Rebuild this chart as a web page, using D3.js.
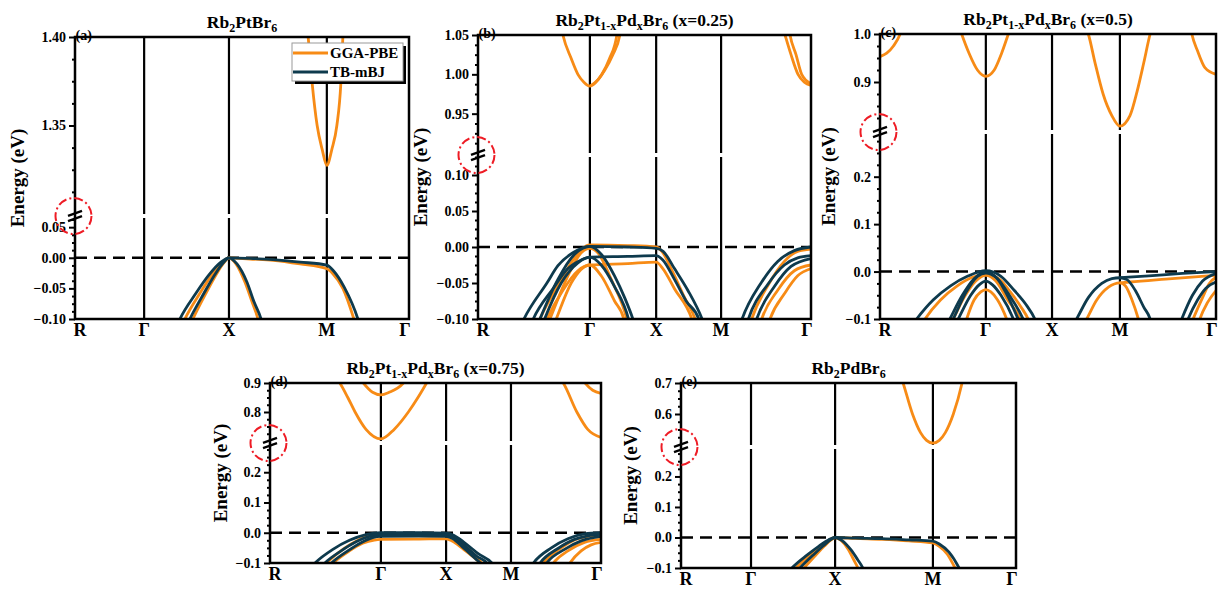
<!DOCTYPE html>
<html>
<head>
<meta charset="utf-8">
<script src="https://cdn.jsdelivr.net/npm/d3@7"></script>
<style>
   body { margin: 0; background: #fff; }
   svg text { font-family: "Liberation Serif", "Times New Roman", serif; font-weight: bold; fill: #000; }
</style>
</head>
<body>
<div id="chart"></div>
<script>
// k-path labels and high-symmetry positions (fraction of the path) for each panel
var kLabels = ["R", "\u0393", "X", "M", "\u0393"];
var kPosA = [0, 0.207, 0.461, 0.754, 1];
var kPosB = [0, 0.336, 0.535, 0.730, 1];
var kPosC = [0, 0.315, 0.512, 0.714, 1];
var kPosD = [0, 0.335, 0.532, 0.728, 1];
var kPosE = [0, 0.209, 0.460, 0.752, 1];

// tick labels, lower and upper part of each broken axis
var aLoTicks = [-0.10, -0.05, 0.00, 0.05], aHiTicks = [1.35, 1.40];
var bLoTicks = [-0.10, -0.05, 0.00, 0.05, 0.10], bHiTicks = [0.95, 1.00, 1.05];
var cLoTicks = [-0.1, 0.0, 0.1, 0.2], cHiTicks = [0.9, 1.0];
var dLoTicks = [-0.1, 0.0, 0.1, 0.2], dHiTicks = [0.8, 0.9];
var eLoTicks = [-0.1, 0.0, 0.1, 0.2], eHiTicks = [0.6, 0.7];

// bands: [k, energy (eV)]
// (a) Rb2PtBr6
var aGgaLo = [
   [[0.314,-0.118],[0.329,-0.10],[0.374,-0.058],[0.410,-0.028],[0.440,-0.008],[0.461,0],[0.524,-0.002],[0.593,-0.004],[0.674,-0.010],[0.754,-0.018],[0.772,-0.026],[0.802,-0.050],[0.835,-0.100],[0.845,-0.118]],
   [[0.338,-0.118],[0.353,-0.10],[0.392,-0.058],[0.422,-0.028],[0.446,-0.008],[0.461,0],[0.482,-0.010],[0.509,-0.040],[0.530,-0.072],[0.548,-0.10],[0.555,-0.115]]
];
var aTbLo = [
   [[0.299,-0.118],[0.314,-0.10],[0.362,-0.058],[0.401,-0.028],[0.435,-0.008],[0.461,0],[0.524,-0.001],[0.593,-0.003],[0.674,-0.007],[0.754,-0.012],[0.775,-0.022],[0.806,-0.048],[0.847,-0.10],[0.857,-0.118]],
   [[0.329,-0.118],[0.344,-0.10],[0.386,-0.058],[0.418,-0.028],[0.444,-0.008],[0.461,0],[0.485,-0.010],[0.515,-0.040],[0.536,-0.072],[0.557,-0.10],[0.564,-0.115]]
];
var aGgaHi = [
   [[0.692,1.41],[0.698,1.40],[0.710,1.374],[0.725,1.35],[0.740,1.3365],[0.754,1.3275],[0.769,1.3365],[0.784,1.35],[0.796,1.374],[0.802,1.40],[0.805,1.41]]
];

// (b) x = 0.25
var bGgaLo = [
   [[0.17,-0.118],[0.186,-0.10],[0.245,-0.05],[0.29,-0.015],[0.336,0.003],[0.45,0.002],[0.535,0.0],[0.552,-0.006],[0.585,-0.035],[0.62,-0.07],[0.652,-0.10],[0.662,-0.115]],
   [[0.19,-0.118],[0.207,-0.10],[0.255,-0.06],[0.30,-0.033],[0.336,-0.025],[0.45,-0.023],[0.535,-0.021],[0.555,-0.03],[0.59,-0.058],[0.642,-0.10],[0.652,-0.115]],
   [[0.20,-0.118],[0.216,-0.10],[0.27,-0.04],[0.31,-0.008],[0.336,-0.002],[0.36,-0.008],[0.40,-0.045],[0.447,-0.10],[0.455,-0.115]],
   [[0.22,-0.118],[0.235,-0.10],[0.28,-0.05],[0.336,-0.025],[0.37,-0.04],[0.41,-0.075],[0.438,-0.10],[0.445,-0.115]],
   [[0.81,-0.118],[0.822,-0.10],[0.875,-0.05],[0.92,-0.02],[0.96,-0.006],[1.0,-0.003]],
   [[0.84,-0.118],[0.852,-0.10],[0.90,-0.06],[0.95,-0.033],[1.0,-0.025]],
   [[0.865,-0.118],[0.877,-0.10],[0.92,-0.065],[0.96,-0.04],[1.0,-0.03]]
];
var bTbLo = [
   [[0.12,-0.118],[0.138,-0.10],[0.207,-0.05],[0.24,-0.026],[0.285,-0.008],[0.336,0.001],[0.45,0.0],[0.535,-0.002],[0.556,-0.006],[0.59,-0.03],[0.63,-0.06],[0.673,-0.10],[0.685,-0.115]],
   [[0.15,-0.118],[0.166,-0.10],[0.225,-0.058],[0.27,-0.03],[0.31,-0.018],[0.336,-0.014],[0.45,-0.013],[0.535,-0.012],[0.555,-0.018],[0.59,-0.045],[0.625,-0.075],[0.663,-0.10],[0.672,-0.115]],
   [[0.17,-0.118],[0.186,-0.10],[0.24,-0.045],[0.29,-0.01],[0.336,0.001],[0.37,-0.01],[0.41,-0.04],[0.44,-0.07],[0.465,-0.10],[0.475,-0.115]],
   [[0.185,-0.118],[0.2,-0.10],[0.25,-0.05],[0.30,-0.022],[0.336,-0.014],[0.37,-0.025],[0.41,-0.055],[0.452,-0.10],[0.46,-0.115]],
   [[0.78,-0.118],[0.793,-0.10],[0.85,-0.05],[0.90,-0.02],[0.95,-0.005],[1.0,0.0]],
   [[0.80,-0.118],[0.812,-0.10],[0.87,-0.052],[0.92,-0.025],[0.96,-0.015],[1.0,-0.012]],
   [[0.825,-0.118],[0.837,-0.10],[0.89,-0.055],[0.94,-0.027],[1.0,-0.016]]
];
var bGgaHi = [
   [[0.25,1.06],[0.255,1.05],[0.28,1.02],[0.30,1.0],[0.318,0.99],[0.336,0.985],[0.354,0.99],[0.372,1.0],[0.395,1.02],[0.417,1.05],[0.42,1.06]],
   [[0.336,0.985],[0.36,0.993],[0.38,1.005],[0.405,1.025],[0.426,1.05],[0.43,1.06]],
   [[0.915,1.06],[0.922,1.05],[0.94,1.025],[0.961,1.0],[0.98,0.99],[1.0,0.986]],
   [[0.933,1.06],[0.937,1.05],[0.955,1.025],[0.972,1.0],[1.0,0.988]]
];

// (c) x = 0.5
var cGgaLo = [
   [[0.118,-0.118],[0.134,-0.10],[0.18,-0.06],[0.23,-0.03],[0.275,-0.012],[0.315,-0.006],[0.355,-0.016],[0.39,-0.045],[0.42,-0.075],[0.441,-0.10],[0.45,-0.115]],
   [[0.205,-0.118],[0.218,-0.10],[0.25,-0.055],[0.285,-0.02],[0.315,-0.008],[0.345,-0.02],[0.38,-0.06],[0.417,-0.10],[0.425,-0.115]],
   [[0.25,-0.118],[0.258,-0.10],[0.28,-0.06],[0.30,-0.043],[0.315,-0.038],[0.33,-0.043],[0.35,-0.06],[0.377,-0.10],[0.385,-0.115]],
   [[0.60,-0.118],[0.615,-0.10],[0.645,-0.06],[0.68,-0.033],[0.714,-0.024],[0.73,-0.03],[0.75,-0.06],[0.769,-0.10],[0.775,-0.115]],
   [[0.714,-0.024],[0.744,-0.022],[0.85,-0.016],[1.0,-0.008]],
   [[0.922,-0.118],[0.932,-0.10],[0.96,-0.055],[0.98,-0.025],[1.0,-0.012]],
   [[0.944,-0.118],[0.952,-0.10],[0.975,-0.065],[1.0,-0.04]]
];
var cTbLo = [
   [[0.09,-0.118],[0.109,-0.10],[0.158,-0.06],[0.21,-0.03],[0.26,-0.01],[0.315,0.002],[0.36,-0.01],[0.40,-0.04],[0.435,-0.07],[0.461,-0.10],[0.47,-0.115]],
   [[0.195,-0.118],[0.208,-0.10],[0.245,-0.05],[0.28,-0.015],[0.315,0.0],[0.35,-0.015],[0.385,-0.05],[0.426,-0.10],[0.435,-0.115]],
   [[0.22,-0.118],[0.233,-0.10],[0.27,-0.05],[0.295,-0.028],[0.315,-0.02],[0.335,-0.028],[0.36,-0.05],[0.397,-0.10],[0.405,-0.115]],
   [[0.205,-0.118],[0.218,-0.10],[0.255,-0.045],[0.29,-0.01],[0.315,-0.003],[0.345,-0.012],[0.375,-0.045],[0.411,-0.10],[0.42,-0.115]],
   [[0.57,-0.118],[0.585,-0.10],[0.62,-0.055],[0.66,-0.025],[0.69,-0.015],[0.714,-0.013],[0.735,-0.017],[0.76,-0.04],[0.785,-0.075],[0.804,-0.10],[0.81,-0.115]],
   [[0.714,-0.013],[0.80,-0.009],[0.90,-0.004],[1.0,0.0]],
   [[0.888,-0.118],[0.898,-0.10],[0.93,-0.05],[0.96,-0.02],[1.0,-0.004]],
   [[0.907,-0.118],[0.917,-0.10],[0.945,-0.06],[0.97,-0.035],[1.0,-0.022]]
];
var cGgaHi = [
   [[0,0.953],[0.02,0.96],[0.04,0.975],[0.06,1.0],[0.065,1.01]],
   [[0.238,1.01],[0.243,1.0],[0.265,0.96],[0.29,0.925],[0.315,0.912],[0.34,0.925],[0.362,0.96],[0.382,1.0],[0.387,1.01]],
   [[0.615,1.01],[0.62,1.0],[0.64,0.94],[0.664,0.875],[0.69,0.83],[0.714,0.808],[0.744,0.83],[0.765,0.88],[0.785,0.94],[0.804,1.0],[0.808,1.01]],
   [[0.925,1.01],[0.928,1.0],[0.945,0.965],[0.967,0.93],[1.0,0.916]]
];

// (d) x = 0.75
var dGgaLo = [
   [[0.155,-0.118],[0.171,-0.10],[0.22,-0.055],[0.27,-0.022],[0.31,-0.006],[0.335,-0.002],[0.45,-0.002],[0.532,-0.003],[0.552,-0.01],[0.585,-0.04],[0.62,-0.075],[0.64,-0.10],[0.65,-0.115]],
   [[0.175,-0.118],[0.191,-0.10],[0.24,-0.06],[0.28,-0.035],[0.315,-0.024],[0.335,-0.022],[0.45,-0.021],[0.532,-0.02],[0.55,-0.027],[0.585,-0.055],[0.62,-0.085],[0.635,-0.10],[0.645,-0.115]],
   [[0.815,-0.118],[0.826,-0.10],[0.88,-0.05],[0.93,-0.02],[0.97,-0.01],[1.0,-0.008]],
   [[0.845,-0.118],[0.856,-0.10],[0.90,-0.06],[0.95,-0.032],[1.0,-0.022]],
   [[0.895,-0.118],[0.906,-0.10],[0.94,-0.06],[0.97,-0.04],[1.0,-0.032]]
];
var dTbLo = [
   [[0.12,-0.118],[0.136,-0.10],[0.19,-0.055],[0.24,-0.025],[0.29,-0.006],[0.335,0.0],[0.45,0.0],[0.532,-0.001],[0.555,-0.008],[0.59,-0.035],[0.63,-0.07],[0.67,-0.10],[0.68,-0.115]],
   [[0.15,-0.118],[0.166,-0.10],[0.215,-0.06],[0.26,-0.03],[0.30,-0.012],[0.335,-0.006],[0.45,-0.005],[0.532,-0.006],[0.553,-0.013],[0.59,-0.045],[0.625,-0.078],[0.655,-0.10],[0.665,-0.115]],
   [[0.17,-0.118],[0.186,-0.10],[0.235,-0.06],[0.275,-0.033],[0.31,-0.016],[0.335,-0.012],[0.45,-0.011],[0.532,-0.012],[0.55,-0.018],[0.585,-0.05],[0.62,-0.085],[0.635,-0.10],[0.645,-0.115]],
   [[0.785,-0.118],[0.796,-0.10],[0.85,-0.05],[0.90,-0.02],[0.95,-0.004],[1.0,0.0]],
   [[0.805,-0.118],[0.816,-0.10],[0.87,-0.052],[0.92,-0.022],[0.96,-0.01],[1.0,-0.005]],
   [[0.825,-0.118],[0.836,-0.10],[0.89,-0.055],[0.94,-0.027],[1.0,-0.012]]
];
var dGgaHi = [
   [[0.205,0.91],[0.211,0.9],[0.235,0.85],[0.257,0.8],[0.29,0.74],[0.335,0.707],[0.375,0.74],[0.418,0.8],[0.447,0.85],[0.473,0.9],[0.478,0.91]],
   [[0.275,0.91],[0.282,0.9],[0.31,0.868],[0.335,0.859],[0.36,0.868],[0.403,0.9],[0.41,0.91]],
   [[0.88,0.91],[0.886,0.9],[0.927,0.8],[0.96,0.74],[1.0,0.712]],
   [[0.945,0.91],[0.952,0.9],[0.975,0.875],[1.0,0.864]]
];

// (e) Rb2PdBr6
var eGgaLo = [
   [[0.328,-0.118],[0.343,-0.10],[0.385,-0.058],[0.418,-0.028],[0.443,-0.008],[0.460,0],[0.52,-0.003],[0.60,-0.006],[0.68,-0.011],[0.752,-0.018],[0.770,-0.028],[0.795,-0.055],[0.818,-0.10],[0.826,-0.118]],
   [[0.352,-0.118],[0.367,-0.10],[0.402,-0.058],[0.428,-0.028],[0.448,-0.008],[0.460,0],[0.478,-0.010],[0.500,-0.040],[0.515,-0.072],[0.528,-0.10],[0.534,-0.118]]
];
var eTbLo = [
   [[0.316,-0.118],[0.331,-0.10],[0.376,-0.058],[0.412,-0.028],[0.440,-0.008],[0.460,0],[0.52,-0.002],[0.60,-0.004],[0.68,-0.008],[0.752,-0.012],[0.772,-0.022],[0.800,-0.048],[0.830,-0.10],[0.838,-0.118]],
   [[0.340,-0.118],[0.355,-0.10],[0.394,-0.058],[0.424,-0.028],[0.446,-0.008],[0.460,0],[0.481,-0.010],[0.507,-0.040],[0.527,-0.072],[0.543,-0.10],[0.550,-0.118]]
];
var eGgaHi = [
   [[0.657,0.72],[0.663,0.70],[0.691,0.60],[0.715,0.54],[0.733,0.515],[0.752,0.506],[0.771,0.515],[0.789,0.54],[0.813,0.60],[0.839,0.70],[0.843,0.72]]
];

var width = 1218,
   height = 589;
var orange = "#f78b16",
   navy = "#0e3a4d";

// layout of each panel (pixels) and its broken y axis
var panels = [
   {key: "a", title: ["Rb", "_2", "PtBr", "_6"], x0: 75, x1: 409, top: 37, bottom: 319, brk: 216, ylabX: 17,
      lo: [-0.10, 0.065], hi: [1.30, 1.40], loTicks: aLoTicks, hiTicks: aHiTicks, step: 0.05, fmt: ".2f",
      kPos: kPosA, ggaLo: aGgaLo, tbLo: aTbLo, ggaHi: aGgaHi, tbHi: []},
   {key: "b", title: ["Rb", "_2", "Pt", "_1-x", "Pd", "_x", "Br", "_6", " (x=0.25)"], x0: 478, x1: 811, top: 35, bottom: 319, brk: 155, ylabX: 420,
      lo: [-0.10, 0.125], hi: [0.90, 1.05], loTicks: bLoTicks, hiTicks: bHiTicks, step: 0.05, fmt: ".2f",
      kPos: kPosB, ggaLo: bGgaLo, tbLo: bTbLo, ggaHi: bGgaHi, tbHi: []},
   {key: "c", title: ["Rb", "_2", "Pt", "_1-x", "Pd", "_x", "Br", "_6", " (x=0.5)"], x0: 880, x1: 1216, top: 34, bottom: 319, brk: 132, ylabX: 828,
      lo: [-0.1, 0.29], hi: [0.80, 1.0], loTicks: cLoTicks, hiTicks: cHiTicks, step: 0.1, fmt: ".1f",
      kPos: kPosC, ggaLo: cGgaLo, tbLo: cTbLo, ggaHi: cGgaHi, tbHi: []},
   {key: "d", title: ["Rb", "_2", "Pt", "_1-x", "Pd", "_x", "Br", "_6", " (x=0.75)"], x0: 270, x1: 601, top: 383, bottom: 563, brk: 443, ylabX: 220,
      lo: [-0.1, 0.29], hi: [0.7, 0.9], loTicks: dLoTicks, hiTicks: dHiTicks, step: 0.1, fmt: ".1f",
      kPos: kPosD, ggaLo: dGgaLo, tbLo: dTbLo, ggaHi: dGgaHi, tbHi: []},
   {key: "e", title: ["Rb", "_2", "PdBr", "_6"], x0: 681, x1: 1016, top: 383, bottom: 568, brk: 447, ylabX: 630,
      lo: [-0.1, 0.29], hi: [0.5, 0.7], loTicks: eLoTicks, hiTicks: eHiTicks, step: 0.1, fmt: ".1f",
      kPos: kPosE, ggaLo: eGgaLo, tbLo: eTbLo, ggaHi: eGgaHi, tbHi: []}
];

var svg = d3.select("#chart").append("svg")
   .attr("width", width)
   .attr("height", height);
var defs = svg.append("defs");

var line = d3.line().curve(d3.curveMonotoneX);

panels.forEach(drawPanel);
drawLegend();

function drawPanel(p) {
   var g = svg.append("g");
   var x = d3.scaleLinear().domain([0, 1]).range([p.x0, p.x1]);
   var yLo = d3.scaleLinear().domain(p.lo).range([p.bottom, p.brk + 2]);
   var yHi = d3.scaleLinear().domain(p.hi).range([p.brk - 2, p.top]);

   defs.append("clipPath").attr("id", "lo-" + p.key).append("rect")
      .attr("x", p.x0).attr("y", p.brk + 2)
      .attr("width", p.x1 - p.x0).attr("height", p.bottom - p.brk - 2);
   defs.append("clipPath").attr("id", "hi-" + p.key).append("rect")
      .attr("x", p.x0).attr("y", p.top)
      .attr("width", p.x1 - p.x0).attr("height", p.brk - 2 - p.top);

   // high-symmetry lines, cut at the break
   p.kPos.slice(1, -1).forEach(function(k) {
      [[p.top, p.brk - 2], [p.brk + 2, p.bottom]].forEach(function(seg) {
         g.append("line")
            .attr("x1", x(k)).attr("x2", x(k))
            .attr("y1", seg[0]).attr("y2", seg[1])
            .attr("stroke", "#000").attr("stroke-width", 2.2);
      });
   });

   // Fermi level
   g.append("line")
      .attr("x1", p.x0).attr("x2", p.x1)
      .attr("y1", yLo(0)).attr("y2", yLo(0))
      .attr("stroke", "#000").attr("stroke-width", 2.4)
      .attr("stroke-dasharray", "12,7");

   drawBands(g, p.ggaLo, x, yLo, orange, "lo-" + p.key);
   drawBands(g, p.tbLo, x, yLo, navy, "lo-" + p.key);
   drawBands(g, p.ggaHi, x, yHi, orange, "hi-" + p.key);
   drawBands(g, p.tbHi, x, yHi, navy, "hi-" + p.key);

   // frame
   g.append("rect")
      .attr("x", p.x0).attr("y", p.top)
      .attr("width", p.x1 - p.x0).attr("height", p.bottom - p.top)
      .attr("fill", "none").attr("stroke", "#000").attr("stroke-width", 2.5);

   // y axis, two parts
   var fmt = d3.format(p.fmt);
   var minorStep = p.step / 4;
   function minors(dom, majors) {
      var out = [];
      for (var i = Math.ceil(dom[0] / minorStep - 1e-6); i * minorStep <= dom[1] + 1e-9; i++) {
         var v = i * minorStep;
         if (v <= dom[0] + 1e-9) continue;
         if (majors.some(function(m) { return Math.abs(m - v) < 1e-9; })) continue;
         out.push(v);
      }
      return out;
   }
   [[yLo, p.loTicks, p.lo], [yHi, p.hiTicks, p.hi]].forEach(function(s) {
      g.append("g")
         .attr("transform", "translate(" + p.x0 + ",0)")
         .call(d3.axisLeft(s[0]).tickValues(s[1]).tickSize(6).tickPadding(3).tickFormat(fmt))
         .call(styleAxis);
      g.append("g")
         .attr("transform", "translate(" + p.x0 + ",0)")
         .call(d3.axisLeft(s[0]).tickValues(minors(s[2], s[1])).tickSize(3).tickFormat(""))
         .call(styleAxis);
   });

   // break mark and red circle
   [-2.6, 2.6].forEach(function(dy) {
      g.append("line")
         .attr("x1", p.x0 - 7).attr("y1", p.brk + dy + 2.5)
         .attr("x2", p.x0 + 7).attr("y2", p.brk + dy - 2.5)
         .attr("stroke", "#000").attr("stroke-width", 2.2);
   });
   g.append("circle")
      .attr("cx", p.x0 - 1.5).attr("cy", p.brk).attr("r", 18)
      .attr("fill", "none").attr("stroke", "#ee1c25").attr("stroke-width", 2)
      .attr("stroke-dasharray", "9,3,2,3");

   // k labels
   p.kPos.forEach(function(k, i) {
      var dx = i === 0 ? 5 : (i === p.kPos.length - 1 ? -4 : 0);
      g.append("text")
         .attr("x", x(k) + dx).attr("y", p.bottom + 17)
         .attr("text-anchor", "middle")
         .style("font-size", "18px")
         .text(kLabels[i]);
   });

   // panel letter
   g.append("text")
      .attr("x", p.x0 + 0.5).attr("y", p.top + 3)
      .style("font-size", "14px")
      .text("(" + p.key + ")");

   // y title
   g.append("text")
      .attr("transform", "translate(" + p.ylabX + "," + ((p.top + p.bottom) / 2) + ") rotate(-90)")
      .attr("text-anchor", "middle")
      .attr("dy", "0.35em")
      .style("font-size", "19px")
      .text("Energy (eV)");

   // title with subscripts
   var t = g.append("text")
      .attr("x", (p.x0 + p.x1) / 2).attr("y", p.top - 9)
      .attr("text-anchor", "middle")
      .style("font-size", "17.5px");
   var shifted = false;
   p.title.forEach(function(part) {
      var sub = part.charAt(0) === "_";
      var ts = t.append("tspan").text(sub ? part.slice(1) : part);
      if (sub && !shifted) { ts.attr("dy", 4); shifted = true; }
      if (!sub && shifted) { ts.attr("dy", -4); shifted = false; }
      if (sub) ts.style("font-size", "12px");
   });
}

function drawBands(g, bands, x, y, color, clipId) {
   g.append("g")
      .attr("clip-path", "url(#" + clipId + ")")
      .selectAll("path")
      .data(bands)
      .enter().append("path")
      .attr("d", function(d) { return line(d.map(function(pt) { return [x(pt[0]), y(pt[1])]; })); })
      .attr("fill", "none")
      .attr("stroke", color)
      .attr("stroke-width", 2.8);
}

function styleAxis(sel) {
   sel.select(".domain").remove();
   sel.attr("font-family", null).attr("font-size", null);
   sel.selectAll(".tick line").attr("stroke", "#000").attr("stroke-width", 2);
   sel.selectAll(".tick text").style("font-size", "14px");
}

function drawLegend() {
   var lg = svg.append("g");
   lg.append("rect").attr("x", 295).attr("y", 46).attr("width", 111).attr("height", 38).attr("fill", "#000");
   lg.append("rect").attr("x", 292).attr("y", 43).attr("width", 111).attr("height", 38)
      .attr("fill", "#fff").attr("stroke", "#9a9a9a").attr("stroke-width", 1);
   [["GGA-PBE", orange, 53], ["TB-mBJ", navy, 72]].forEach(function(it) {
      lg.append("line").attr("x1", 293).attr("x2", 328).attr("y1", it[2]).attr("y2", it[2])
         .attr("stroke", it[1]).attr("stroke-width", 2.8);
      lg.append("text").attr("x", 330).attr("y", it[2] + 5).style("font-size", "15px").text(it[0]);
   });
}
</script>
</body>
</html>
